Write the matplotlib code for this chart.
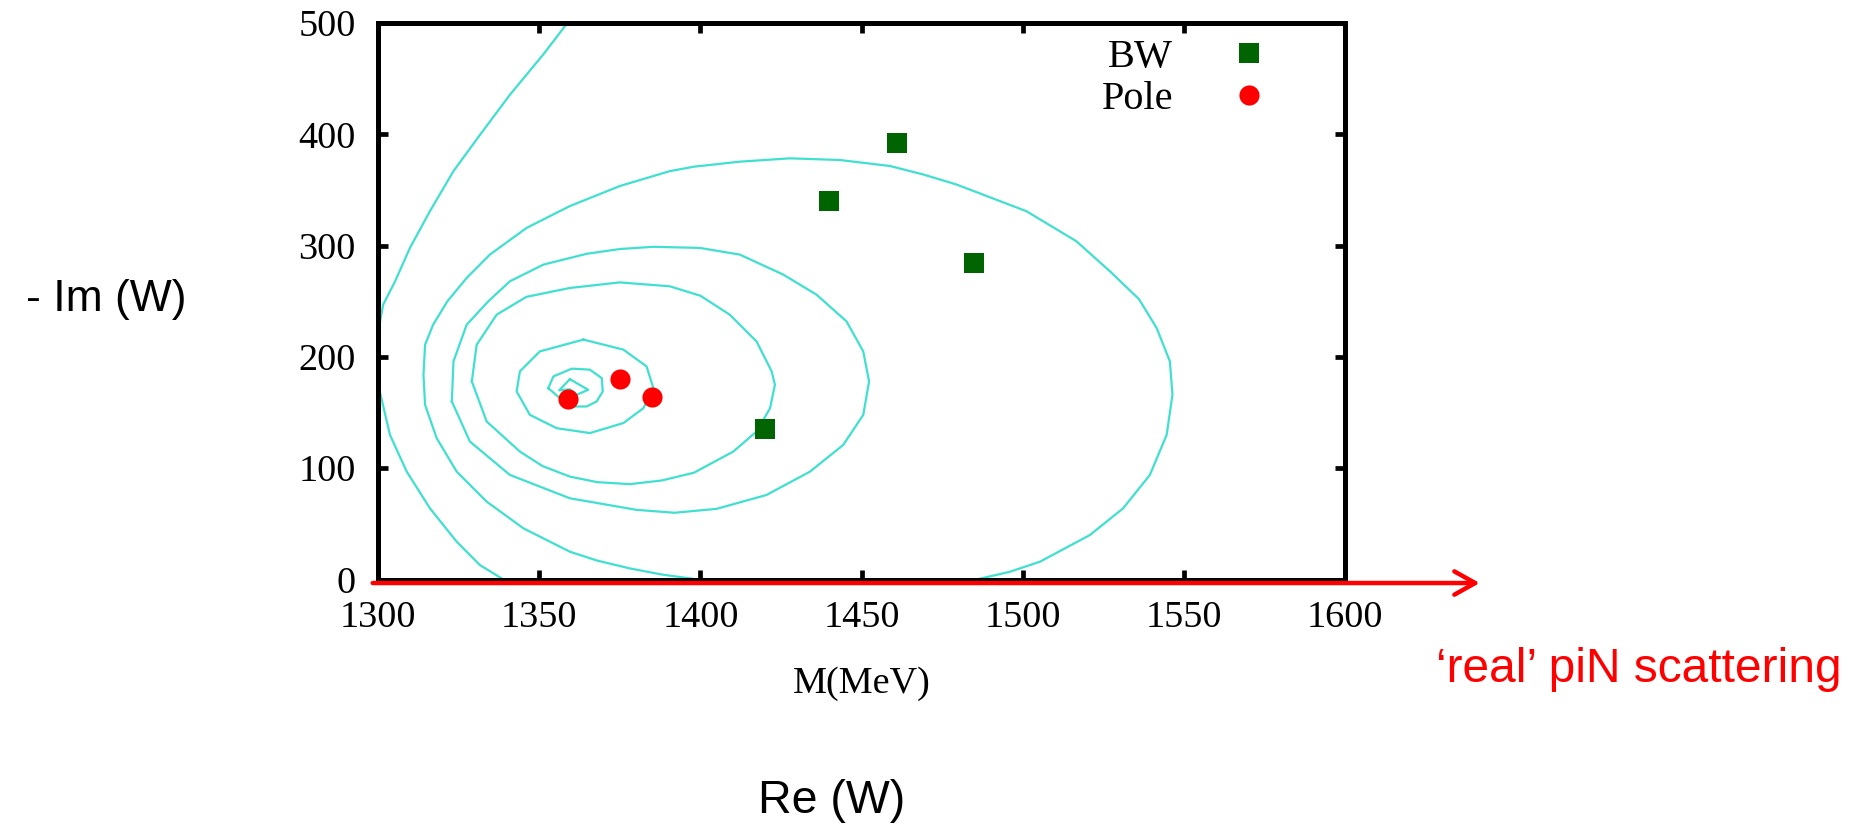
import matplotlib
matplotlib.use('Agg')
import matplotlib.pyplot as plt

# Breit-Wigner and pole positions (M in MeV, -Im in MeV)
bw_m = [1420, 1440, 1461, 1485]
bw_im = [135, 340, 392, 284]
pole_m = [1359, 1375, 1385]
pole_im = [162, 180, 164]

# contour lines
c_a_top_x = [1358.7, 1351.3, 1340.9, 1331.6, 1323.4, 1316.1, 1309.9, 1305.3, 1301.6, 1300.2]
c_a_top_y = [500, 472, 435.6, 399.5, 367, 331, 298, 268, 247, 225]
c_a_low_x = [1300.2, 1300.8, 1303.7, 1308.9, 1316.1, 1324.4, 1331.6, 1338.9]
c_a_low_y = [172, 166, 130, 97, 64, 34, 13, 0]

c_b_x = [1485.6, 1496, 1505.3, 1520.8, 1531.1, 1539.4, 1544.6, 1546.4, 1545.6, 1541.5, 1536,
         1527, 1516.6, 1501.1, 1479.4, 1469.1, 1458.8, 1443.2, 1427.8, 1412.2, 1398, 1390.5,
         1375, 1359.5, 1346.1, 1334.7, 1327.5, 1321.5, 1317.1, 1314.6, 1314.1, 1314.6, 1318.2,
         1324.4, 1333.7, 1345.1, 1359.5, 1368, 1378.1, 1388, 1399.3]
c_b_y = [0, 7, 16, 40, 64, 94, 130, 166, 196, 226, 252,
         277, 304, 331, 355, 364, 371.6, 377, 378.5, 375.5, 371, 367,
         353.6, 335.6, 316, 292, 271, 250, 229, 211, 184, 157, 127,
         97, 70, 46, 25, 17, 10, 4.5, 0]

c_c_x = [1322.9, 1323.4, 1327.5, 1334.2, 1340.9, 1351.3, 1364.7, 1375, 1385.4, 1399.8, 1412.2,
         1425.7, 1436, 1445.3, 1450.5, 1452.3, 1450.5, 1444.3, 1434, 1420.5, 1405, 1392,
         1380.2, 1359.5, 1340.9, 1328.5, 1322.9]
c_c_y = [160, 196, 229, 250, 268, 283, 292.7, 297, 299, 298, 292,
         274, 256, 232, 205, 178, 148, 121, 97, 76, 63.5, 60,
         62.6, 73, 94, 124, 160]

c_d_x = [1329.1, 1330.6, 1336.8, 1346, 1359.5, 1375, 1390.5, 1400, 1409.1, 1417.4, 1422.1,
         1423.1, 1421.6, 1417.4, 1410.2, 1398, 1388, 1378.1, 1368, 1359.5, 1351, 1344,
         1333.7, 1329.1]
c_d_y = [178, 211, 238, 254, 262, 267, 263.5, 255, 238, 214, 187,
         175, 154, 133, 115, 96, 89, 85.7, 87.5, 92.5, 102, 115,
         142, 178]

c_e_x = [1363.7, 1376.1, 1383.3, 1385.4, 1382.3, 1376.1, 1365.7, 1355.4, 1347.1, 1343,
         1344, 1350.2, 1363.7]
c_e_y = [215.6, 206.6, 191.5, 172, 154, 140.6, 131.6, 136, 148, 169,
         187, 205, 215.6]

c_f_x = [1352.8, 1354.4, 1360.1, 1365.7, 1369.4, 1369.7, 1367.8, 1364.7, 1360.6, 1356.4, 1352.8]
c_f_y = [172, 182.5, 189.5, 188.6, 181, 169, 160, 155.5, 155.5, 163, 172]

c_g_x = [1359.5, 1365.2, 1361.6, 1359.5, 1356.2, 1359.5]
c_g_y = [180, 170.5, 166, 171, 170, 180]

contours = [(c_a_top_x, c_a_top_y), (c_a_low_x, c_a_low_y), (c_b_x, c_b_y),
            (c_c_x, c_c_y), (c_d_x, c_d_y), (c_e_x, c_e_y), (c_f_x, c_f_y), (c_g_x, c_g_y)]

x_ticks = [1300, 1350, 1400, 1450, 1500, 1550, 1600]
y_ticks = [0, 100, 200, 300, 400, 500]

serif = 'Liberation Serif'
sans = 'Liberation Sans'

fig = plt.figure(figsize=(18.53, 8.26), dpi=100)
ax = fig.add_axes([0.204, 0.2984, 0.522, 0.6736])

for cx, cy in contours:
    ax.plot(cx, cy, '-', color='#40E0D0', lw=1.6, zorder=2,
            solid_joinstyle='round')

ax.plot(bw_m, bw_im, 's', color='#006400', ms=15, mew=0, label='BW', zorder=3)
ax.plot(pole_m, pole_im, 'o', color='red', ms=14.5, mew=0, label='Pole', zorder=3)

ax.set_xlim(1300, 1600)
ax.set_ylim(0, 500)
ax.set_xticks(x_ticks)
ax.set_yticks(y_ticks)
for lab in ax.get_xticklabels() + ax.get_yticklabels():
    lab.set_family(serif)
    lab.set_fontsize(27.5)
ax.tick_params(direction='in', length=7, width=3.4, top=True, right=True)
ax.tick_params(axis='x', pad=15)
ax.tick_params(axis='y', pad=16)
for s in ax.spines.values():
    s.set_linewidth(3.6)

ax.set_xlabel('M(MeV)', family=serif, fontsize=27.5, labelpad=23)

leg = ax.legend(loc='upper right', bbox_to_anchor=(0.942, 0.972), frameon=False,
                markerfirst=False, handlelength=2.0, handletextpad=0.88,
                labelspacing=0.12, borderpad=0, borderaxespad=0,
                prop={'family': serif, 'size': 29})

# red arrow along the real axis
ax.annotate('', xy=(1.139, -0.0063), xytext=(-0.0055, -0.0063),
            xycoords='axes fraction', textcoords='axes fraction',
            arrowprops=dict(arrowstyle='->,head_length=0.75,head_width=0.42',
                            color='red', lw=3.2, shrinkA=0, shrinkB=0,
                            mutation_scale=20),
            annotation_clip=False, zorder=5)

fig.text(0.014, 0.638, '- Im (W)', ha='left', va='center', fontsize=32, family=sans)
fig.text(0.449, 0.0157, 'Re (W)', ha='center', va='baseline', fontsize=33.5, family=sans)
fig.text(0.775, 0.174, '\u2018real\u2019 piN scattering', ha='left', va='baseline',
         fontsize=34.5, family=sans, color='red')

fig.savefig('out.png', dpi=100)
